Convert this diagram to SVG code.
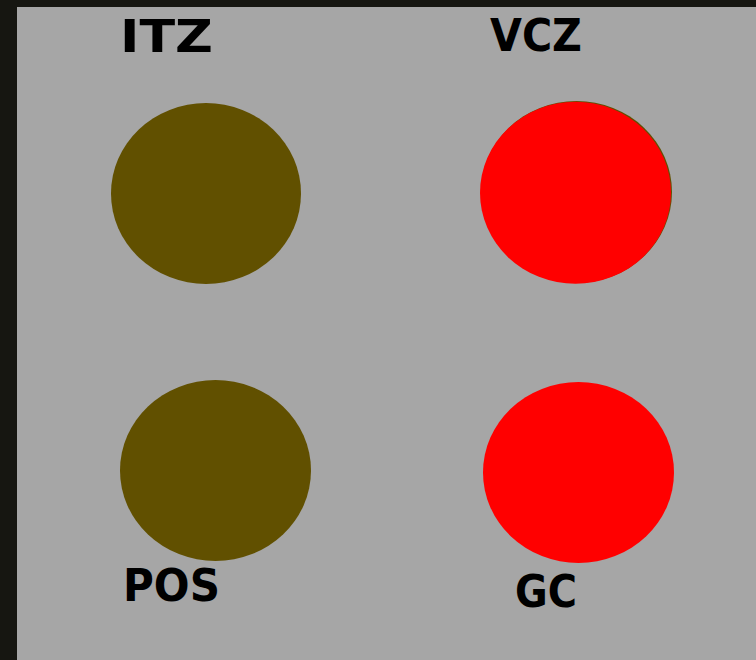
<svg xmlns="http://www.w3.org/2000/svg" width="756" height="660" viewBox="0 0 756 660">
<style>
.lbl{font-family:"Comic Sans MS","DejaVu Sans",sans-serif;font-weight:bold;font-size:45px;fill:#000}
.olive{fill:#615000}
.red{fill:#ff0000}
</style>
<rect x="0" y="0" width="756" height="660" fill="#161611"/>
<rect x="17" y="7" width="739" height="653" fill="#a6a6a6"/>
<g id="ITZ">
<ellipse class="olive" cx="206" cy="193.5" rx="95" ry="90.5"/>
<text class="lbl" x="120" y="52" textLength="93" lengthAdjust="spacingAndGlyphs">ITZ</text>
</g>
<g id="VCZ">
<ellipse class="olive" cx="576.5" cy="192" rx="95.5" ry="91"/>
<ellipse class="red" cx="575.5" cy="192.8" rx="95.5" ry="91"/>
<text class="lbl" x="490" y="51" textLength="92" lengthAdjust="spacingAndGlyphs">VCZ</text>
</g>
<g id="POS">
<ellipse class="olive" cx="215.5" cy="470.5" rx="95.5" ry="90.5"/>
<text class="lbl" x="123" y="601" textLength="97" lengthAdjust="spacingAndGlyphs">POS</text>
</g>
<g id="GC">
<ellipse class="red" cx="578.5" cy="472.5" rx="95.5" ry="90.5"/>
<text class="lbl" x="515" y="607" textLength="62" lengthAdjust="spacingAndGlyphs">GC</text>
</g>
<g id="connectors"/>
</svg>
